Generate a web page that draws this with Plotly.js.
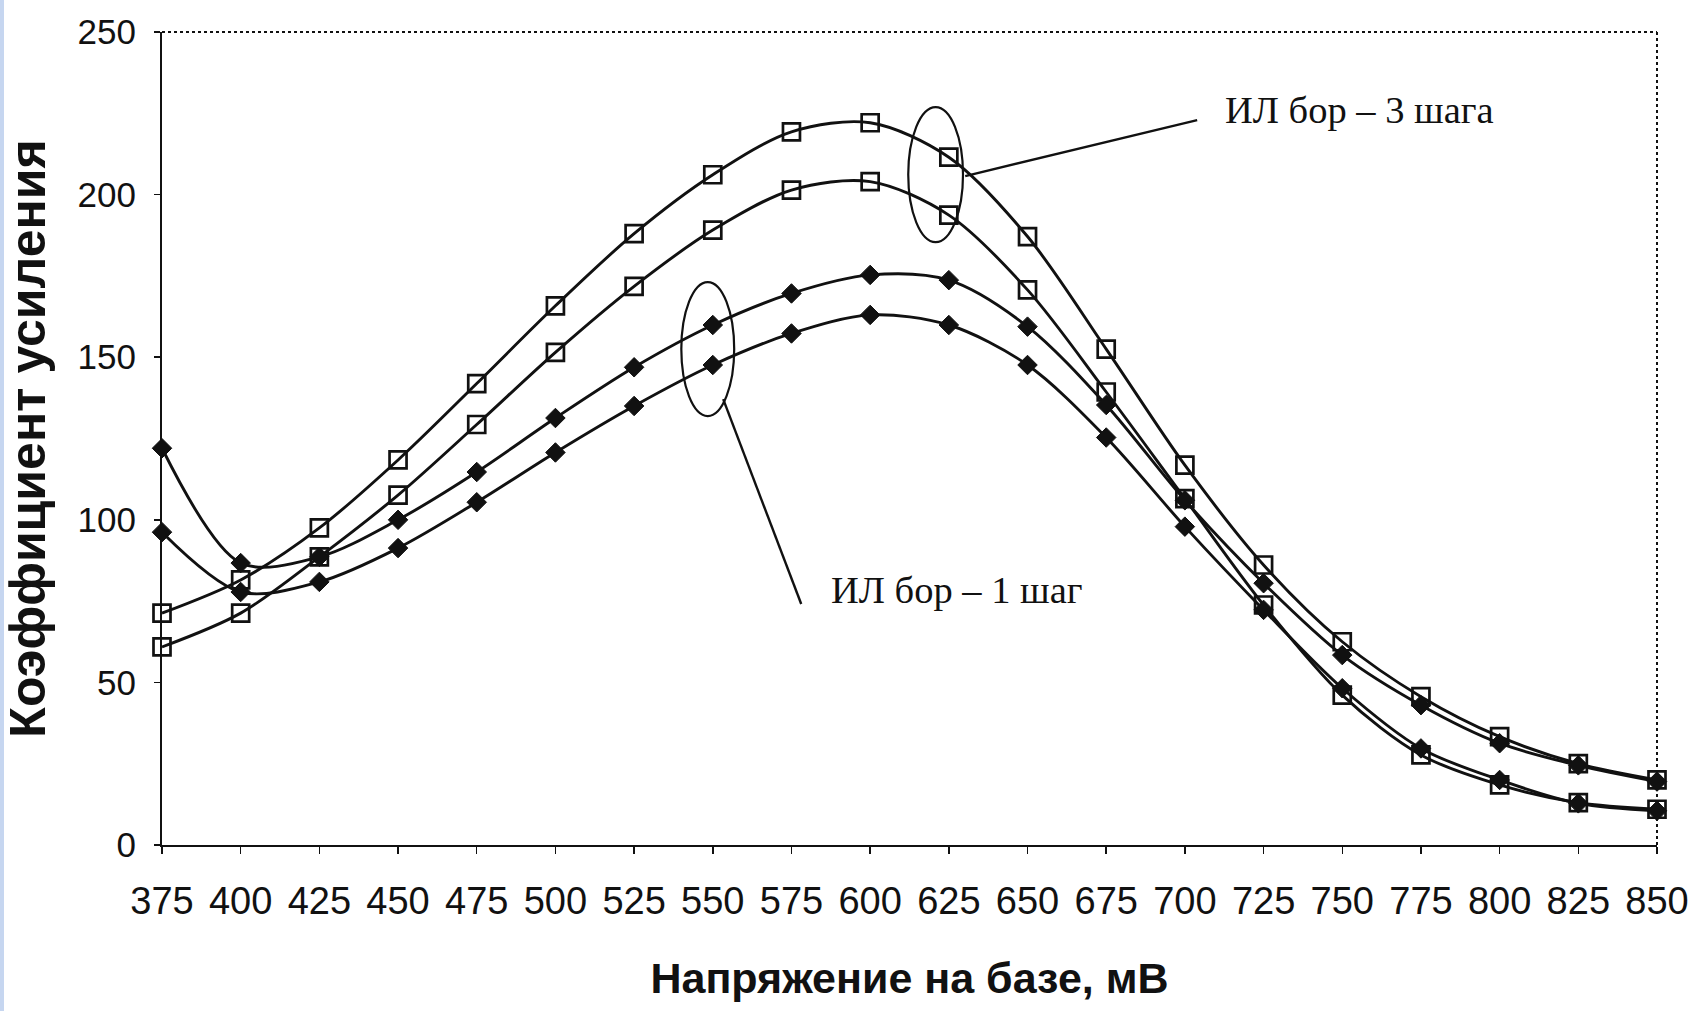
<!DOCTYPE html>
<html>
<head>
<meta charset="utf-8">
<script src="https://cdn.plot.ly/plotly-3.0.1.min.js"></script>
<style>
  html, body { margin: 0; padding: 0; background: #ffffff; }
  #stripe { position: absolute; left: 0; top: 0; width: 4px; height: 1011px; background: #c6d6f0; z-index: 5; }
  #chart { width: 1690px; height: 1011px; }
</style>
</head>
<body>
<div id="stripe"></div>
<div id="chart"></div>
<script>
// Base voltage, mV
const voltage = [375, 400, 425, 450, 475, 500, 525, 550, 575, 600, 625, 650, 675, 700, 725, 750, 775, 800, 825, 850];

// ИЛ бор – 3 шага (open squares)
const steps3_upper = [71.3, 81.5, 97.5, 118.4, 141.9, 165.8, 188.0, 206.1, 219.3, 222.1, 211.5, 187.1, 152.5, 116.8, 86.1, 62.5, 45.6, 33.3, 25.0, 20.0];
const steps3_lower = [60.9, 71.3, 88.6, 107.6, 129.3, 151.5, 171.8, 189.1, 201.4, 204.0, 193.7, 170.7, 139.3, 106.5, 73.8, 46.1, 27.7, 18.5, 13.0, 11.0];

// ИЛ бор – 1 шаг (filled diamonds)
const step1_upper = [122.0, 86.7, 88.6, 100.0, 114.7, 131.3, 146.9, 159.9, 169.6, 175.3, 173.7, 159.4, 135.3, 106.0, 80.5, 58.4, 43.0, 31.3, 24.5, 19.5];
const step1_lower = [96.2, 77.8, 80.9, 91.3, 105.4, 120.7, 135.0, 147.6, 157.3, 163.0, 159.9, 147.6, 125.3, 97.9, 72.3, 48.2, 29.7, 20.0, 12.8, 10.5];

const xTicks = [375, 400, 425, 450, 475, 500, 525, 550, 575, 600, 625, 650, 675, 700, 725, 750, 775, 800, 825, 850];
const yTicks = [0, 50, 100, 150, 200, 250];

const xTitle = 'Напряжение на базе, мВ';
const yTitle = 'Коэффициент усиления';
const label3 = 'ИЛ бор – 3 шага';
const label1 = 'ИЛ бор – 1 шаг';

const ink = '#111111';
const sans = '"Liberation Sans", Arial, sans-serif';
const xTickFont = { family: sans, size: 38, color: ink };
const yTickFont = { family: sans, size: 35, color: ink };
const xTitleFont = { family: sans, size: 43, color: ink };
const yTitleFont = { family: sans, size: 50, color: ink };
const noteFont = { family: '"Liberation Serif", "Times New Roman", serif', size: 38.5, color: ink };

function squareTrace(y, name) {
  return {
    x: voltage, y: y, name: name, type: 'scatter', mode: 'lines+markers',
    line: { color: ink, width: 2.9, shape: 'spline', smoothing: 0.9 },
    marker: { symbol: 'square-open', size: 17, color: ink, line: { color: ink, width: 2.7 } },
    cliponaxis: false, showlegend: false
  };
}
function diamondTrace(y, name) {
  return {
    x: voltage, y: y, name: name, type: 'scatter', mode: 'lines+markers',
    line: { color: ink, width: 2.9, shape: 'spline', smoothing: 0.9 },
    marker: { symbol: 'diamond', size: 15, color: ink, line: { color: ink, width: 1 } },
    cliponaxis: false, showlegend: false
  };
}

const data = [
  squareTrace(steps3_upper, label3 + ' (a)'),
  squareTrace(steps3_lower, label3 + ' (b)'),
  diamondTrace(step1_upper, label1 + ' (a)'),
  diamondTrace(step1_lower, label1 + ' (b)')
];

const layout = {
  width: 1690, height: 1011,
  margin: { l: 162, r: 33, t: 32, b: 166 },
  paper_bgcolor: '#ffffff', plot_bgcolor: '#ffffff',
  showlegend: false,
  xaxis: {
    range: [375, 850], tickvals: xTicks, ticktext: xTicks.map(String),
    ticks: 'outside', ticklen: 7, tickwidth: 1.5, tickcolor: ink,
    showline: true, linecolor: ink, linewidth: 2, mirror: false,
    showgrid: false, zeroline: false,
    tickfont: xTickFont, ticklabelstandoff: 14,
    title: { text: '<b>' + xTitle + '</b>', font: xTitleFont, standoff: 42 }
  },
  yaxis: {
    range: [0, 250], tickvals: yTicks, ticktext: yTicks.map(String),
    ticks: 'outside', ticklen: 6, tickwidth: 1.5, tickcolor: ink,
    showline: true, linecolor: ink, linewidth: 2, mirror: false,
    showgrid: false, zeroline: false,
    tickfont: yTickFont, ticklabelstandoff: 11,
    title: { text: '<b>' + yTitle + '</b>', font: yTitleFont, standoff: 22 }
  },
  shapes: [
    { type: 'line', xref: 'paper', yref: 'paper', x0: 0, x1: 1, y0: 1, y1: 1, line: { color: ink, width: 2, dash: 'dot' } },
    { type: 'line', xref: 'paper', yref: 'paper', x0: 1, x1: 1, y0: 0, y1: 1, line: { color: ink, width: 2, dash: 'dot' } },
    { type: 'circle', xref: 'x', yref: 'y', x0: 612.1, x1: 629.5, y0: 185.4, y1: 226.9, line: { color: ink, width: 2.2 } },
    { type: 'circle', xref: 'x', yref: 'y', x0: 540.0, x1: 556.8, y0: 131.9, y1: 173.1, line: { color: ink, width: 2.2 } },
    { type: 'line', xref: 'x', yref: 'y', x0: 703.9, y0: 222.9, x1: 630.2, y1: 205.7, line: { color: ink, width: 2.4 } },
    { type: 'line', xref: 'x', yref: 'y', x0: 553.3, y0: 137.1, x1: 578.1, y1: 74.1, line: { color: ink, width: 2.4 } }
  ],
  annotations: [
    { text: label3, x: 712.1, y: 226.0, xref: 'x', yref: 'y', xanchor: 'left', yanchor: 'middle', showarrow: false, font: noteFont },
    { text: label1, x: 587.0, y: 78.4, xref: 'x', yref: 'y', xanchor: 'left', yanchor: 'middle', showarrow: false, font: noteFont }
  ]
};

Plotly.newPlot('chart', data, layout, { staticPlot: true, displayModeBar: false });
</script>
</body>
</html>
